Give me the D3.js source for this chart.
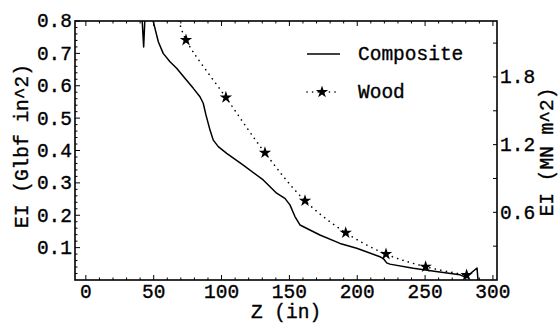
<!DOCTYPE html>
<html>
<head>
<meta charset="utf-8">
<script src="https://cdn.jsdelivr.net/npm/d3@7"></script>
<style>
html,body{margin:0;padding:0;background:#fff;}
svg{display:block;}
text{font-family:"Liberation Mono","Courier New",monospace;fill:#000;stroke:#000;stroke-width:0.35px;}
</style>
</head>
<body>
<svg id="chart" width="560" height="325"></svg>
<script>
// ---- data ----
const compositeZ  = [39.5, 42.6, 45.0, 48.0, 49.7, 53.4, 57.0, 62.0, 66.9, 73.0, 79.2, 84.1, 86.5, 88.5, 91.5, 93.9, 97.6, 103.8, 116.0, 130.7, 140.6, 146.7, 150.4, 154.1, 157.8, 172.5, 187.3, 199.6, 216.7, 219.5, 221.7, 224.0, 241.3, 258.0, 275.7, 280.0, 288.3, 289.0];
const compositeEI = [0.95, 0.72, 0.95, 0.86, 0.798, 0.736, 0.700, 0.674, 0.654, 0.623, 0.592, 0.566, 0.546, 0.510, 0.463, 0.432, 0.412, 0.391, 0.355, 0.309, 0.268, 0.252, 0.232, 0.196, 0.170, 0.139, 0.113, 0.098, 0.072, 0.065, 0.053, 0.049, 0.036, 0.026, 0.016, 0.008, 0.037, 0.0];
const woodZ  = [73.8, 103.2, 132.0, 161.5, 191.5, 221.2, 250.4, 280.6];
const woodEI = [0.741, 0.564, 0.393, 0.245, 0.146, 0.080, 0.041, 0.015];
const woodLineStart = [68.6, 0.80];
const xTicks = [0, 50, 100, 150, 200, 250, 300];
const yTicks = [0.1, 0.2, 0.3, 0.4, 0.5, 0.6, 0.7, 0.8];
const rightTicks = [0.3, 0.6, 0.9, 1.2, 1.5, 1.8, 2.1];
const rightLabels = [0.6, 1.2, 1.8];
const seriesNames = ["Composite", "Wood"];
const MNperGlbf = 2.87;

// ---- layout ----
const svg = d3.select("#chart");
const L = 75, R = 497, T = 21, B = 280;
const x = d3.scaleLinear().domain([-8, 303]).range([L, R]);
const y = d3.scaleLinear().domain([0, 0.8]).range([B, T]);
const y2 = d3.scaleLinear().domain([0, 0.8 * MNperGlbf]).range([B, T]);
const FS = 19.5;

svg.append("defs").append("clipPath").attr("id", "clip")
  .append("rect").attr("x", L).attr("y", T).attr("width", R - L).attr("height", B - T);

// ticks (inward)
const g = svg.append("g").attr("stroke", "#000").attr("stroke-width", 1);
const xMinor = d3.range(-0, 301, 10).filter(v => !xTicks.includes(v));
xTicks.forEach(v => {
  g.append("line").attr("x1", x(v)).attr("x2", x(v)).attr("y1", B).attr("y2", B - 5);
  g.append("line").attr("x1", x(v)).attr("x2", x(v)).attr("y1", T).attr("y2", T + 5);
});
xMinor.forEach(v => {
  g.append("line").attr("x1", x(v)).attr("x2", x(v)).attr("y1", B).attr("y2", B - 2.5);
  g.append("line").attr("x1", x(v)).attr("x2", x(v)).attr("y1", T).attr("y2", T + 2.5);
});
const yMinor = d3.range(0.02, 0.8, 0.02).filter(v => Math.abs(v*10 - Math.round(v*10)) > 0.01);
yTicks.forEach(v => g.append("line").attr("x1", L).attr("x2", L + 5).attr("y1", y(v)).attr("y2", y(v)));
yMinor.forEach(v => g.append("line").attr("x1", L).attr("x2", L + 2.5).attr("y1", y(v)).attr("y2", y(v)));
rightTicks.forEach(v => g.append("line").attr("x1", R).attr("x2", R - 4).attr("y1", y2(v)).attr("y2", y2(v)));

// frame
svg.append("rect").attr("x", L).attr("y", T).attr("width", R - L).attr("height", B - T)
  .attr("fill", "none").attr("stroke", "#000").attr("stroke-width", 1.6);

// tick labels
svg.append("g").selectAll("text").data(xTicks).join("text")
  .attr("x", d => x(d)).attr("y", 298).attr("text-anchor", "middle")
  .attr("font-size", FS).text(d => d);
svg.append("g").selectAll("text").data(yTicks).join("text")
  .attr("x", 72).attr("y", d => y(d)).attr("dy", "0.33em").attr("text-anchor", "end")
  .attr("font-size", FS).text(d => d.toFixed(1));
svg.append("g").selectAll("text").data(rightLabels).join("text")
  .attr("x", 500).attr("y", d => y2(d)).attr("dy", "0.33em").attr("text-anchor", "start")
  .attr("font-size", FS).text(d => d.toFixed(1));

// axis labels
svg.append("text").attr("transform", "translate(28,146) rotate(-90)")
  .attr("text-anchor", "middle").attr("font-size", FS).text("EI (Glbf in^2)");
svg.append("text").attr("transform", "translate(553,152) rotate(-90)")
  .attr("text-anchor", "middle").attr("font-size", FS).text("EI (MN m^2)");
svg.append("text").attr("x", 286).attr("y", 318).attr("text-anchor", "middle")
  .attr("font-size", FS).text("Z (in)");

// series
const plot = svg.append("g").attr("clip-path", "url(#clip)");
const comp = compositeZ.map((z, i) => [z, compositeEI[i]]);
plot.append("path").datum(comp)
  .attr("d", d3.line().x(d => x(d[0])).y(d => y(d[1])))
  .attr("fill", "none").attr("stroke", "#000").attr("stroke-width", 1.5).attr("stroke-linejoin", "round");

const wood = woodZ.map((z, i) => [z, woodEI[i]]);
plot.append("path").datum([woodLineStart].concat(wood))
  .attr("d", d3.line().curve(d3.curveCatmullRom).x(d => x(d[0])).y(d => y(d[1])))
  .attr("fill", "none").attr("stroke", "#000").attr("stroke-width", 1.6)
  .attr("stroke-linecap", "round").attr("stroke-dasharray", "0.1,5.5");
const star = d3.symbol().type(d3.symbolStar).size(48);
plot.append("g").selectAll("path").data(wood).join("path")
  .attr("transform", d => `translate(${x(d[0])},${y(d[1])})`)
  .attr("d", star).attr("fill", "#000");

// legend
const lg = svg.append("g");
lg.append("line").attr("x1", 307).attr("x2", 340).attr("y1", 54).attr("y2", 54)
  .attr("stroke", "#000").attr("stroke-width", 1.5);
lg.append("text").attr("x", 358).attr("y", 54).attr("dy", "0.33em").attr("font-size", FS).text(seriesNames[0]);
lg.append("line").attr("x1", 307).attr("x2", 340).attr("y1", 92).attr("y2", 92)
  .attr("stroke", "#000").attr("stroke-width", 1.6).attr("stroke-linecap", "round").attr("stroke-dasharray", "0.1,5.5");
lg.append("path").attr("transform", "translate(322,92)").attr("d", star).attr("fill", "#000");
lg.append("text").attr("x", 358).attr("y", 92).attr("dy", "0.33em").attr("font-size", FS).text(seriesNames[1]);
</script>
</body>
</html>
